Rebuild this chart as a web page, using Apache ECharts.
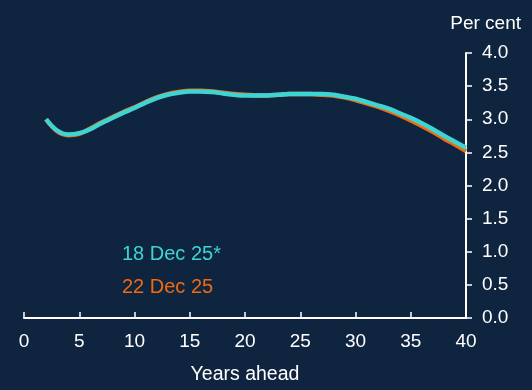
<!DOCTYPE html>
<html><head><meta charset="utf-8">
<script src="https://cdn.jsdelivr.net/npm/echarts@6/dist/echarts.min.js"></script>
<style>html,body{margin:0;padding:0;background:#0f243f;}#c{width:532px;height:390px;}</style>
</head><body><div id="c"></div>
<script>
const years = [2,3,4,5,6,7,8,9,10,11,12,13,14,15,16,17,18,19,20,21,22,23,24,25,26,27,28,29,30,31,32,33,34,35,36,37,38,39,40];
const dec18 = [3.00,2.83,2.77,2.79,2.85,2.94,3.02,3.10,3.17,3.25,3.32,3.37,3.40,3.42,3.42,3.41,3.39,3.37,3.36,3.36,3.36,3.37,3.38,3.38,3.38,3.38,3.37,3.34,3.31,3.26,3.21,3.16,3.09,3.02,2.94,2.85,2.75,2.66,2.57];
const dec22 = [3.00,2.82,2.76,2.78,2.86,2.95,3.03,3.11,3.18,3.26,3.33,3.38,3.41,3.43,3.43,3.42,3.40,3.38,3.37,3.36,3.36,3.37,3.38,3.38,3.38,3.37,3.36,3.33,3.29,3.24,3.19,3.13,3.06,2.98,2.90,2.81,2.71,2.62,2.52];
const xTicks = [0,5,10,15,20,25,30,35,40];
const yTicks = [0.0,0.5,1.0,1.5,2.0,2.5,3.0,3.5,4.0];
const labels = ['18 Dec 25*','22 Dec 25'];
const colors = ['#3dd5d3','#f26a10'];
const font = 'Liberation Sans, Arial, sans-serif';

const chart = echarts.init(document.getElementById('c'));
chart.setOption({
  backgroundColor: '#0f243f',
  animation: false,
  grid: {left: 24, right: 66, top: 53, bottom: 71},
  xAxis: {
    type: 'value', min: xTicks[0], max: xTicks[xTicks.length-1], interval: 5,
    name: 'Years ahead', nameLocation: 'middle', nameGap: 47,
    nameTextStyle: {color: '#ffffff', fontSize: 19.5, fontFamily: font},
    axisLine: {show: true, lineStyle: {color: '#ffffff', width: 2}},
    axisTick: {show: true, inside: true, length: 6, lineStyle: {color: '#ffffff', width: 1.5}},
    axisLabel: {color: '#ffffff', fontSize: 19, fontFamily: font, margin: 14},
    splitLine: {show: false}
  },
  yAxis: {
    type: 'value', position: 'right', min: yTicks[0], max: yTicks[yTicks.length-1], interval: 0.5,
    axisLine: {show: true, onZero: false, lineStyle: {color: '#ffffff', width: 2}},
    axisTick: {show: true, inside: false, length: 6, lineStyle: {color: '#ffffff', width: 1.5}},
    axisLabel: {color: '#ffffff', fontSize: 19, fontFamily: font, margin: 16, formatter: v => v.toFixed(1)},
    splitLine: {show: false}
  },
  graphic: [
    {type: 'text', right: 11, top: 14, style: {text: 'Per cent', fill: '#ffffff', font: '19px ' + font}},
    {type: 'text', left: 122, top: 244, style: {text: labels[0], fill: colors[0], font: '20px ' + font}},
    {type: 'text', left: 122, top: 277, style: {text: labels[1], fill: colors[1], font: '20px ' + font}}
  ],
  series: [
    {name: labels[1], type: 'line', data: years.map((x,i)=>[x,dec22[i]]), smooth: 0.4, showSymbol: false,
     lineStyle: {color: colors[1], width: 4.5}, z: 2},
    {name: labels[0], type: 'line', data: years.map((x,i)=>[x,dec18[i]]), smooth: 0.4, showSymbol: false,
     lineStyle: {color: colors[0], width: 4.5}, z: 3}
  ]
});
</script></body></html>
